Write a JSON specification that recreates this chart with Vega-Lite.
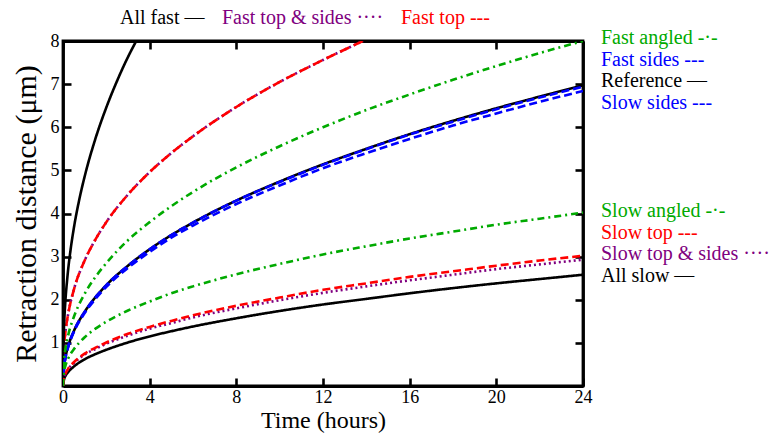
{
  "$schema": "https://vega.github.io/schema/vega-lite/v6.json",
  "width": 520,
  "height": 345,
  "autosize": {"type": "none"},
  "padding": {"left": 63, "top": 41, "right": 189, "bottom": 53},
  "config": {
    "view": {"stroke": "black", "strokeWidth": 2.8},
    "font": "Liberation Serif",
    "axis": {"domainColor": "black", "domainWidth": 2.8, "tickColor": "black", "tickWidth": 2.6, "tickSize": -8, "labelFont": "Liberation Serif", "labelFontSize": 18, "labelColor": "black", "labelFlush": false, "titleFont": "Liberation Serif", "titleFontWeight": "normal", "titleFontSize": 24, "titleColor": "black", "grid": false, "labelPadding": 12},
    "legend": {"labelFont": "Liberation Serif", "labelFontSize": 20, "labelLimit": 400, "symbolOpacity": 0, "symbolSize": 0, "symbolStrokeWidth": 0, "labelOffset": -20, "padding": 0, "rowPadding": 1.5, "columnPadding": 17, "title": null}
  },
  "data": {"values": [
    {"s":"Fast top & sides","t":0,"d":0},{"s":"Fast top & sides","t":0.05,"d":0.92},{"s":"Fast top & sides","t":0.1,"d":1.2},{"s":"Fast top & sides","t":0.25,"d":1.7},{"s":"Fast top & sides","t":0.5,"d":2.23},{"s":"Fast top & sides","t":1,"d":2.91},{"s":"Fast top & sides","t":1.5,"d":3.4},{"s":"Fast top & sides","t":2,"d":3.8},{"s":"Fast top & sides","t":3,"d":4.44},{"s":"Fast top & sides","t":4,"d":4.96},{"s":"Fast top & sides","t":5,"d":5.4},{"s":"Fast top & sides","t":6,"d":5.79},{"s":"Fast top & sides","t":8,"d":6.47},{"s":"Fast top & sides","t":10,"d":7.05},{"s":"Fast top & sides","t":12,"d":7.56},{"s":"Fast top & sides","t":13.85,"d":8},
    {"s":"Fast top","t":0,"d":0},{"s":"Fast top","t":0.05,"d":0.92},{"s":"Fast top","t":0.1,"d":1.2},{"s":"Fast top","t":0.25,"d":1.7},{"s":"Fast top","t":0.5,"d":2.23},{"s":"Fast top","t":1,"d":2.91},{"s":"Fast top","t":1.5,"d":3.4},{"s":"Fast top","t":2,"d":3.8},{"s":"Fast top","t":3,"d":4.44},{"s":"Fast top","t":4,"d":4.96},{"s":"Fast top","t":5,"d":5.4},{"s":"Fast top","t":6,"d":5.79},{"s":"Fast top","t":8,"d":6.47},{"s":"Fast top","t":10,"d":7.05},{"s":"Fast top","t":12,"d":7.56},{"s":"Fast top","t":13.85,"d":8},
    {"s":"All fast","t":0,"d":0},{"s":"All fast","t":0.02,"d":0.98},{"s":"All fast","t":0.05,"d":1.42},{"s":"All fast","t":0.1,"d":1.89},{"s":"All fast","t":0.2,"d":2.51},{"s":"All fast","t":0.35,"d":3.16},{"s":"All fast","t":0.5,"d":3.66},{"s":"All fast","t":0.75,"d":4.32},{"s":"All fast","t":1,"d":4.86},{"s":"All fast","t":1.5,"d":5.74},{"s":"All fast","t":2,"d":6.46},{"s":"All fast","t":2.5,"d":7.08},{"s":"All fast","t":3,"d":7.63},{"s":"All fast","t":3.38,"d":8},
    {"s":"Reference","t":0,"d":0},{"s":"Reference","t":0.05,"d":0.46},{"s":"Reference","t":0.1,"d":0.63},{"s":"Reference","t":0.25,"d":0.94},{"s":"Reference","t":0.5,"d":1.27},{"s":"Reference","t":1,"d":1.72},{"s":"Reference","t":1.5,"d":2.06},{"s":"Reference","t":2,"d":2.34},{"s":"Reference","t":3,"d":2.79},{"s":"Reference","t":4,"d":3.17},{"s":"Reference","t":5,"d":3.5},{"s":"Reference","t":6,"d":3.79},{"s":"Reference","t":8,"d":4.3},{"s":"Reference","t":10,"d":4.74},{"s":"Reference","t":12,"d":5.14},{"s":"Reference","t":14,"d":5.5},{"s":"Reference","t":16,"d":5.84},{"s":"Reference","t":18,"d":6.15},{"s":"Reference","t":20,"d":6.44},{"s":"Reference","t":22,"d":6.71},{"s":"Reference","t":24,"d":6.97},
    {"s":"Slow sides","t":0,"d":0},{"s":"Slow sides","t":0.05,"d":0.45},{"s":"Slow sides","t":0.1,"d":0.62},{"s":"Slow sides","t":0.25,"d":0.92},{"s":"Slow sides","t":0.5,"d":1.25},{"s":"Slow sides","t":1,"d":1.69},{"s":"Slow sides","t":1.5,"d":2.02},{"s":"Slow sides","t":2,"d":2.3},{"s":"Slow sides","t":3,"d":2.74},{"s":"Slow sides","t":4,"d":3.11},{"s":"Slow sides","t":5,"d":3.44},{"s":"Slow sides","t":6,"d":3.72},{"s":"Slow sides","t":8,"d":4.22},{"s":"Slow sides","t":10,"d":4.65},{"s":"Slow sides","t":12,"d":5.05},{"s":"Slow sides","t":14,"d":5.4},{"s":"Slow sides","t":16,"d":5.73},{"s":"Slow sides","t":18,"d":6.04},{"s":"Slow sides","t":20,"d":6.32},{"s":"Slow sides","t":22,"d":6.59},{"s":"Slow sides","t":24,"d":6.84},
    {"s":"Fast sides","t":0,"d":0},{"s":"Fast sides","t":0.05,"d":0.46},{"s":"Fast sides","t":0.1,"d":0.63},{"s":"Fast sides","t":0.25,"d":0.94},{"s":"Fast sides","t":0.5,"d":1.27},{"s":"Fast sides","t":1,"d":1.72},{"s":"Fast sides","t":1.5,"d":2.06},{"s":"Fast sides","t":2,"d":2.34},{"s":"Fast sides","t":3,"d":2.79},{"s":"Fast sides","t":4,"d":3.17},{"s":"Fast sides","t":5,"d":3.5},{"s":"Fast sides","t":6,"d":3.79},{"s":"Fast sides","t":8,"d":4.3},{"s":"Fast sides","t":10,"d":4.73},{"s":"Fast sides","t":12,"d":5.13},{"s":"Fast sides","t":14,"d":5.49},{"s":"Fast sides","t":16,"d":5.83},{"s":"Fast sides","t":18,"d":6.13},{"s":"Fast sides","t":20,"d":6.42},{"s":"Fast sides","t":22,"d":6.69},{"s":"Fast sides","t":24,"d":6.94},
    {"s":"Fast angled","t":0,"d":0},{"s":"Fast angled","t":0.05,"d":0.62},{"s":"Fast angled","t":0.1,"d":0.82},{"s":"Fast angled","t":0.25,"d":1.2},{"s":"Fast angled","t":0.5,"d":1.6},{"s":"Fast angled","t":1,"d":2.14},{"s":"Fast angled","t":1.5,"d":2.53},{"s":"Fast angled","t":2,"d":2.85},{"s":"Fast angled","t":3,"d":3.38},{"s":"Fast angled","t":4,"d":3.8},{"s":"Fast angled","t":5,"d":4.17},{"s":"Fast angled","t":6,"d":4.5},{"s":"Fast angled","t":8,"d":5.07},{"s":"Fast angled","t":10,"d":5.56},{"s":"Fast angled","t":12,"d":6},{"s":"Fast angled","t":14,"d":6.4},{"s":"Fast angled","t":16,"d":6.76},{"s":"Fast angled","t":18,"d":7.1},{"s":"Fast angled","t":20,"d":7.42},{"s":"Fast angled","t":22,"d":7.72},{"s":"Fast angled","t":24,"d":8},
    {"s":"All slow","t":0,"d":0},{"s":"All slow","t":0.05,"d":0.16},{"s":"All slow","t":0.1,"d":0.22},{"s":"All slow","t":0.25,"d":0.33},{"s":"All slow","t":0.5,"d":0.45},{"s":"All slow","t":1,"d":0.62},{"s":"All slow","t":1.5,"d":0.74},{"s":"All slow","t":2,"d":0.84},{"s":"All slow","t":3,"d":1.01},{"s":"All slow","t":4,"d":1.15},{"s":"All slow","t":5,"d":1.27},{"s":"All slow","t":6,"d":1.38},{"s":"All slow","t":8,"d":1.57},{"s":"All slow","t":10,"d":1.74},{"s":"All slow","t":12,"d":1.89},{"s":"All slow","t":14,"d":2.02},{"s":"All slow","t":16,"d":2.15},{"s":"All slow","t":18,"d":2.27},{"s":"All slow","t":20,"d":2.38},{"s":"All slow","t":22,"d":2.48},{"s":"All slow","t":24,"d":2.58},
    {"s":"Slow top & sides","t":0,"d":0},{"s":"Slow top & sides","t":0.05,"d":0.19},{"s":"Slow top & sides","t":0.1,"d":0.26},{"s":"Slow top & sides","t":0.25,"d":0.4},{"s":"Slow top & sides","t":0.5,"d":0.53},{"s":"Slow top & sides","t":1,"d":0.73},{"s":"Slow top & sides","t":1.5,"d":0.86},{"s":"Slow top & sides","t":2,"d":0.98},{"s":"Slow top & sides","t":3,"d":1.17},{"s":"Slow top & sides","t":4,"d":1.33},{"s":"Slow top & sides","t":5,"d":1.46},{"s":"Slow top & sides","t":6,"d":1.59},{"s":"Slow top & sides","t":8,"d":1.8},{"s":"Slow top & sides","t":10,"d":1.99},{"s":"Slow top & sides","t":12,"d":2.16},{"s":"Slow top & sides","t":14,"d":2.31},{"s":"Slow top & sides","t":16,"d":2.45},{"s":"Slow top & sides","t":18,"d":2.58},{"s":"Slow top & sides","t":20,"d":2.71},{"s":"Slow top & sides","t":22,"d":2.82},{"s":"Slow top & sides","t":24,"d":2.93},
    {"s":"Slow top","t":0,"d":0},{"s":"Slow top","t":0.05,"d":0.2},{"s":"Slow top","t":0.1,"d":0.27},{"s":"Slow top","t":0.25,"d":0.41},{"s":"Slow top","t":0.5,"d":0.55},{"s":"Slow top","t":1,"d":0.75},{"s":"Slow top","t":1.5,"d":0.89},{"s":"Slow top","t":2,"d":1.01},{"s":"Slow top","t":3,"d":1.21},{"s":"Slow top","t":4,"d":1.37},{"s":"Slow top","t":5,"d":1.51},{"s":"Slow top","t":6,"d":1.64},{"s":"Slow top","t":8,"d":1.86},{"s":"Slow top","t":10,"d":2.05},{"s":"Slow top","t":12,"d":2.23},{"s":"Slow top","t":14,"d":2.38},{"s":"Slow top","t":16,"d":2.53},{"s":"Slow top","t":18,"d":2.66},{"s":"Slow top","t":20,"d":2.79},{"s":"Slow top","t":22,"d":2.91},{"s":"Slow top","t":24,"d":3.02},
    {"s":"Slow angled","t":0,"d":0},{"s":"Slow angled","t":0.05,"d":0.34},{"s":"Slow angled","t":0.1,"d":0.45},{"s":"Slow angled","t":0.25,"d":0.65},{"s":"Slow angled","t":0.5,"d":0.85},{"s":"Slow angled","t":1,"d":1.13},{"s":"Slow angled","t":1.5,"d":1.33},{"s":"Slow angled","t":2,"d":1.49},{"s":"Slow angled","t":3,"d":1.75},{"s":"Slow angled","t":4,"d":1.96},{"s":"Slow angled","t":5,"d":2.15},{"s":"Slow angled","t":6,"d":2.31},{"s":"Slow angled","t":8,"d":2.59},{"s":"Slow angled","t":10,"d":2.83},{"s":"Slow angled","t":12,"d":3.05},{"s":"Slow angled","t":14,"d":3.24},{"s":"Slow angled","t":16,"d":3.42},{"s":"Slow angled","t":18,"d":3.58},{"s":"Slow angled","t":20,"d":3.74},{"s":"Slow angled","t":22,"d":3.88},{"s":"Slow angled","t":24,"d":4.02}
  ]},
  "layer": [
    {
      "transform": [{"filter": {"field": "s", "oneOf": ["All fast", "Fast top & sides", "Fast top"]}}],
      "mark": {"type": "line", "interpolate": "monotone", "strokeWidth": 2.6, "clip": true},
      "encoding": {
        "x": {"field": "t", "type": "quantitative", "scale": {"domain": [0, 24], "nice": false}, "axis": {"orient": "bottom", "values": [0, 4, 8, 12, 16, 20, 24], "title": "Time (hours)", "labelPadding": 10, "titlePadding": 2}},
        "y": {"field": "d", "type": "quantitative", "scale": {"domain": [0, 8], "nice": false}, "axis": {"orient": "left", "values": [1, 2, 3, 4, 5, 6, 7, 8], "title": "Retraction distance (μm)", "titleFontSize": 30, "titlePadding": 9}},
        "color": {"field": "s", "type": "nominal", "scale": {"domain": ["All fast", "Fast top & sides", "Fast top"], "range": ["#000000", "#800080", "#ff0000"]},
          "legend": {"orient": "none", "legendX": 57, "legendY": -33, "direction": "horizontal",
            "labelExpr": "datum.label + (datum.label == 'All fast' ? ' —' : datum.label == 'Fast top' ? ' ---' : ' ····')",
            "labelColor": {"expr": "datum.label == 'All fast' ? '#000000' : datum.label == 'Fast top' ? '#ff0000' : '#800080'"}}},
        "strokeDash": {"field": "s", "type": "nominal", "scale": {"domain": ["All fast", "Fast top & sides", "Fast top"], "range": [[1, 0], [2, 3], [10, 5]]}, "legend": null}
      }
    },
    {
      "transform": [{"filter": {"field": "s", "oneOf": ["Fast angled", "Fast sides", "Reference", "Slow sides"]}}],
      "mark": {"type": "line", "interpolate": "monotone", "strokeWidth": 2.6, "clip": true},
      "encoding": {
        "x": {"field": "t", "type": "quantitative", "axis": null},
        "y": {"field": "d", "type": "quantitative", "axis": null},
        "color": {"field": "s", "type": "nominal", "scale": {"domain": ["Fast angled", "Fast sides", "Reference", "Slow sides"], "range": ["#00aa00", "#0000ff", "#000000", "#0000ff"]},
          "legend": {"orient": "none", "legendX": 538, "legendY": -13, "direction": "vertical",
            "labelExpr": "datum.label + (datum.label == 'Reference' ? ' —' : datum.label == 'Fast angled' ? ' -·-' : ' ---')",
            "labelColor": {"expr": "datum.label == 'Reference' ? '#000000' : datum.label == 'Fast angled' ? '#00aa00' : '#0000ff'"}}},
        "strokeDash": {"field": "s", "type": "nominal", "scale": {"domain": ["Fast angled", "Fast sides", "Reference", "Slow sides"], "range": [[7, 4, 2, 4], [8, 4], [1, 0], [8, 4]]}, "legend": null}
      }
    },
    {
      "transform": [{"filter": {"field": "s", "oneOf": ["Slow angled", "Slow top", "Slow top & sides", "All slow"]}}],
      "mark": {"type": "line", "interpolate": "monotone", "strokeWidth": 2.6, "clip": true},
      "encoding": {
        "x": {"field": "t", "type": "quantitative", "axis": {"orient": "top", "values": [0, 4, 8, 12, 16, 20, 24], "labels": false, "title": null}},
        "y": {"field": "d", "type": "quantitative", "axis": {"orient": "right", "values": [1, 2, 3, 4, 5, 6, 7, 8], "labels": false, "title": null}},
        "color": {"field": "s", "type": "nominal", "scale": {"domain": ["Slow angled", "Slow top", "Slow top & sides", "All slow"], "range": ["#00aa00", "#ff0000", "#800080", "#000000"]},
          "legend": {"orient": "none", "legendX": 538, "legendY": 160, "direction": "vertical",
            "labelExpr": "datum.label + (datum.label == 'All slow' ? ' —' : datum.label == 'Slow angled' ? ' -·-' : datum.label == 'Slow top' ? ' ---' : ' ····')",
            "labelColor": {"expr": "datum.label == 'All slow' ? '#000000' : datum.label == 'Slow angled' ? '#00aa00' : datum.label == 'Slow top' ? '#ff0000' : '#800080'"}}},
        "strokeDash": {"field": "s", "type": "nominal", "scale": {"domain": ["Slow angled", "Slow top", "Slow top & sides", "All slow"], "range": [[7, 4, 2, 4], [8, 4], [2, 3], [1, 0]]}, "legend": null}
      }
    }
  ],
  "resolve": {"scale": {"color": "independent", "strokeDash": "independent"}, "axis": {"x": "independent", "y": "independent"}}
}
